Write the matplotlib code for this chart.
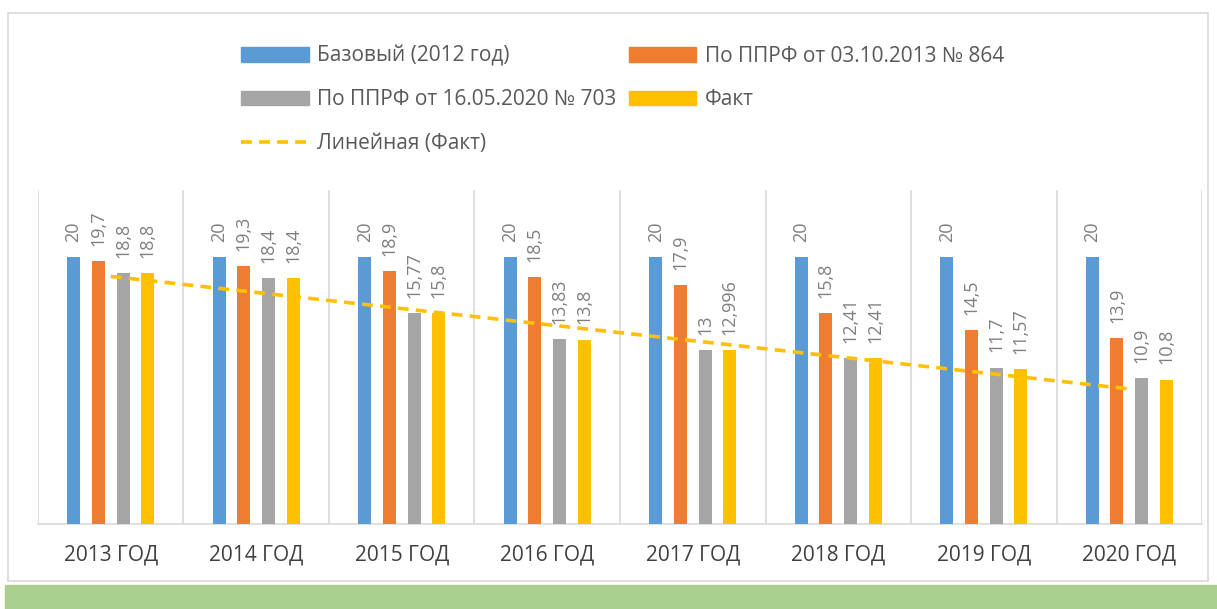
import numpy as np
import matplotlib
matplotlib.use("Agg")
import matplotlib.pyplot as plt
from matplotlib.patches import Patch, Rectangle
from matplotlib.lines import Line2D

plt.rcParams['font.family'] = ['Open Sans', 'DejaVu Sans']

years = ["2013 ГОД", "2014 ГОД", "2015 ГОД", "2016 ГОД",
         "2017 ГОД", "2018 ГОД", "2019 ГОД", "2020 ГОД"]
base_2012 = [20, 20, 20, 20, 20, 20, 20, 20]
pprf_864 = [19.7, 19.3, 18.9, 18.5, 17.9, 15.8, 14.5, 13.9]
pprf_703 = [18.8, 18.4, 15.77, 13.83, 13, 12.41, 11.7, 10.9]
fact = [18.8, 18.4, 15.8, 13.8, 12.996, 12.41, 11.57, 10.8]

names = ["Базовый (2012 год)", "По ППРФ от 03.10.2013 № 864",
         "По ППРФ от 16.05.2020 № 703", "Факт"]
colors = ["#5B9BD5", "#ED7D31", "#A5A5A5", "#FFC000"]
series = [base_2012, pprf_864, pprf_703, fact]
offsets = [-0.255, -0.085, 0.085, 0.255]

fig = plt.figure(figsize=(12.17, 6.09), dpi=100)
ax = fig.add_axes([0.0312, 0.1396, 0.9565, 0.5484])

x = np.arange(len(years))
for vals, col, off in zip(series, colors, offsets):
    ax.bar(x + off, vals, width=0.09, color=col, zorder=3)
    for xi, v in zip(x, vals):
        ax.annotate(f"{v:g}".replace(".", ","), (xi + off, v),
                    xytext=(0, 11), textcoords="offset points",
                    rotation=90, ha="center", va="bottom",
                    fontsize=13, color="#7f7f7f")

# linear trend of Fact
k, b = np.polyfit(x, fact, 1)
ax.plot(x, k * x + b, color="#FFC000", lw=2.6, ls=(0, (3, 2)), zorder=4)

ax.set_xlim(-0.5, len(years) - 0.5)
ax.set_ylim(0, 25)
ax.set_yticks([])
ax.set_xticks(x)
ax.set_xticklabels(years, fontsize=15, color="#404040")
ax.tick_params(axis="x", length=0, pad=15)
for b_ in np.arange(-0.5, len(years), 1):
    ax.axvline(b_, color="#d9d9d9", lw=1.2, zorder=1)
for s in ["top", "left", "right"]:
    ax.spines[s].set_visible(False)
ax.spines["bottom"].set_color("#d9d9d9")
ax.spines["bottom"].set_linewidth(1.2)

# legend, column-major order to get the row layout
h = [Patch(color=c) for c in colors]
trend = Line2D([], [], color="#FFC000", lw=2.6, ls=(0, (3, 2)))
fig.legend([h[0], h[2], trend, h[1], h[3]],
           [names[0], names[2], "Линейная (Факт)", names[1], names[3]],
           ncol=2, loc="upper left", bbox_to_anchor=(0.1826, 0.956),
           frameon=False, fontsize=15, labelcolor="#595959",
           handlelength=3.25, handleheight=0.7, handletextpad=0.4,
           columnspacing=0.6, labelspacing=1.1)

# chart border and green band below
fig.patches.append(Rectangle((8 / 1217, 1 - 581 / 609), 1200 / 1217, 568 / 609,
                             transform=fig.transFigure, fill=False,
                             edgecolor="#d9d9d9", lw=1.2))
fig.patches.append(Rectangle((5 / 1217, 0), 1212 / 1217, 24 / 609,
                             transform=fig.transFigure, color="#A9D08E"))

fig.savefig("out.png", dpi=100)
